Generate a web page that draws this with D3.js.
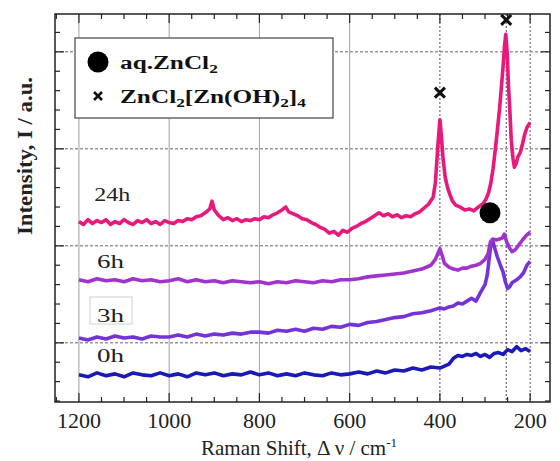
<!DOCTYPE html>
<html>
<head>
<meta charset="utf-8">
<script src="https://cdn.jsdelivr.net/npm/d3@7"></script>
<style>
  body { margin: 0; background: #fff; }
  svg { font-family: "Liberation Serif", "DejaVu Serif", serif; }
</style>
</head>
<body>
<svg id="chart" width="560" height="461"></svg>
<script>
// Raman spectra, [shift (cm-1), intensity (a.u., offset)]
var h0 = [[1200,-33],[1180,-35],[1160,-31],[1140,-34],[1120,-32],[1100,-35],[1080,-31],[1060,-33],[1040,-34],[1020,-31],
  [1000,-34],[980,-32],[960,-35],[940,-31],[920,-33],[900,-31],[880,-34],[860,-32],[840,-33],[820,-30],
  [800,-33],[780,-31],[760,-34],[740,-32],[720,-34],[700,-31],[680,-33],[660,-34],[640,-31],[620,-33],
  [600,-32],[580,-30],[560,-32],[540,-29],[520,-31],[500,-28],[480,-29],[460,-26],[440,-28],[420,-25],
  [400,-26],[390,-24],[380,-22],[370,-16],[360,-13],[350,-14],[340,-12],[330,-13],[320,-11],[310,-14],
  [300,-12],[290,-15],[280,-11],[270,-10],[260,-12],[250,-7],[240,-9],[230,-4],[220,-8],[210,-6],[200,-9]];

var h3 = [[1200,5],[1180,3],[1160,6],[1140,4],[1120,7],[1100,5],[1080,6],[1060,4],[1040,7],[1020,6],
  [1000,6],[980,8],[960,6],[940,9],[920,7],[900,9],[880,8],[860,10],[840,9],[820,11],
  [800,11],[780,10],[760,13],[740,12],[720,14],[700,12],[680,15],[660,14],[640,17],[620,16],
  [600,19],[580,18],[560,21],[540,22],[520,24],[500,26],[480,27],[460,30],[440,31],[420,33],
  [400,36],[390,35],[380,37],[370,38],[360,41],[350,40],[340,43],[330,46],[320,43],[310,52],
  [300,60],[295,70],[290,90],[286,104],[283,106],[280,100],[273,89],[266,80],[260,73],[255,63],
  [250,56],[245,58],[240,62],[230,65],[222,68],[215,72],[207,80],[200,84]];

var h6 = [[1200,65],[1180,63],[1160,66],[1140,64],[1120,65],[1100,63],[1080,66],[1060,64],[1040,65],[1020,63],
  [1000,64],[980,66],[960,63],[940,65],[920,63],[900,64],[880,62],[860,64],[840,63],[820,62],
  [800,63],[780,61],[760,63],[740,62],[720,64],[700,63],[680,62],[660,64],[640,63],[620,65],
  [600,65],[580,66],[560,68],[540,69],[520,70],[500,71],[480,72],[460,74],[440,76],[420,80],
  [410,86],[400,97],[395,90],[390,82],[380,78],[370,76],[360,75],[350,77],[340,77],[330,79],
  [320,80],[310,82],[300,86],[293,92],[288,104],[283,107],[275,106],[268,107],[262,108],[257,112],
  [252,104],[246,98],[240,94],[233,96],[225,101],[217,106],[208,111],[200,114]];

var h24 = [[1200,125],[1190,122],[1180,127],[1170,123],[1160,126],[1150,124],[1140,127],[1130,122],[1120,125],[1110,123],
  [1100,127],[1090,124],[1080,122],[1070,126],[1060,124],[1050,127],[1040,123],[1030,125],[1020,122],[1010,126],
  [1000,124],[990,123],[980,126],[970,125],[960,128],[950,127],[940,130],[930,131],[920,134],[910,138],
  [905,146],[900,137],[890,131],[880,127],[870,129],[860,126],[850,128],[840,125],[830,127],[820,126],
  [810,128],[800,127],[790,130],[780,129],[770,132],[760,134],[750,137],[742,140],[735,135],[725,133],
  [715,131],[705,128],[695,127],[685,124],[675,122],[665,119],[655,117],[645,113],[635,115],[625,111],
  [615,116],[605,114],[595,118],[585,120],[575,123],[565,125],[555,128],[545,131],[535,134],[525,131],
  [515,133],[505,130],[495,132],[485,129],[475,131],[465,130],[455,133],[445,135],[435,139],[425,143],
  [415,150],[410,165],[405,200],[400,230],[397,215],[393,190],[388,170],[383,160],[378,153],[372,146],
  [365,142],[355,140],[345,137],[335,138],[325,136],[315,140],[305,143],[298,148],[292,155],[287,165],
  [282,180],[277,200],[272,222],[268,240],[264,262],[260,285],[257,305],[254,318],[251,300],[248,265],
  [245,240],[242,210],[238,190],[235,181],[231,185],[227,192],[222,196],[217,205],[212,215],[207,222],
  [203,225],[200,227]];

var seriesNames = ["0h", "3h", "6h", "24h"];
var seriesData = [h0, h3, h6, h24];
var seriesColors = ["#1a1ab8", "#7433d6", "#a033cc", "#e8187c"];
var seriesLabelPos = [[1160, -20], [1160, 21], [1160, 77], [1166, 146]];

var xTicks = [1200, 1000, 800, 600, 400, 200];
var yGrid = [0, 100, 200, 300];
var crossMarks = [[400, 258], [253, 333]];   // ZnCl2[Zn(OH)2]4
var dotMarks = [[289, 134]];                 // aq. ZnCl2

var svg = d3.select("#chart");
var pl = 55, pr = 550, pt = 14, pb = 402;

var x = d3.scaleLinear().domain([1253, 156]).range([pl, pr]);
var y = d3.scaleLinear().domain([-61, 339]).range([pb, pt]);

var g = svg.append("g");

// grid
g.selectAll(".vgrid")
    .data(xTicks)
    .enter().append("line")
    .attr("x1", function(d) { return x(d); })
    .attr("x2", function(d) { return x(d); })
    .attr("y1", pt).attr("y2", pb)
    .attr("stroke", function(d) { return d <= 400 ? "#555" : "#a0a0a0"; })
    .attr("stroke-dasharray", function(d) { return d <= 400 ? "2,2" : null; })
    .attr("stroke-width", 1);

g.selectAll(".hgrid")
    .data(yGrid)
    .enter().append("line")
    .attr("x1", pl).attr("x2", pr)
    .attr("y1", function(d) { return y(d); })
    .attr("y2", function(d) { return y(d); })
    .attr("stroke", "#666")
    .attr("stroke-dasharray", "3,2")
    .attr("stroke-width", 1);

// guide line through the 253 peak
g.append("line")
    .attr("x1", x(253)).attr("x2", x(253))
    .attr("y1", pt).attr("y2", pb)
    .attr("stroke", "#444")
    .attr("stroke-dasharray", "2,2");

// ticks (inward) on all four sides
var xMinor = d3.range(1250, 150, -50);
var yMinor = d3.range(-60, 340, 20);
function isMajorX(d) { return xTicks.indexOf(d) >= 0; }
function isMajorY(d) { return yGrid.indexOf(d) >= 0; }

[pb, pt].forEach(function(edge) {
  var dir = edge === pb ? -1 : 1;
  g.selectAll(null).data(xMinor).enter().append("line")
      .attr("x1", function(d) { return x(d); })
      .attr("x2", function(d) { return x(d); })
      .attr("y1", edge)
      .attr("y2", function(d) { return edge + dir * (isMajorX(d) ? 9 : 5); })
      .attr("stroke", "#222").attr("stroke-width", 1.2);
});
[pl, pr].forEach(function(edge) {
  var dir = edge === pl ? 1 : -1;
  g.selectAll(null).data(yMinor).enter().append("line")
      .attr("y1", function(d) { return y(d); })
      .attr("y2", function(d) { return y(d); })
      .attr("x1", edge)
      .attr("x2", function(d) { return edge + dir * (isMajorY(d) ? 9 : 5); })
      .attr("stroke", "#222").attr("stroke-width", 1.2);
});

// spectra
var line = d3.line()
    .x(function(d) { return x(d[0]); })
    .y(function(d) { return y(d[1]); });

seriesData.forEach(function(s, i) {
  g.append("path")
      .datum(s)
      .attr("fill", "none")
      .attr("stroke", seriesColors[i])
      .attr("stroke-width", 3.6)
      .attr("stroke-linejoin", "round")
      .attr("d", line);
});

// series labels
seriesNames.forEach(function(name, i) {
  var p = seriesLabelPos[i];
  g.append("text")
      .attr("x", x(p[0])).attr("y", y(p[1]))
      .attr("font-size", "19px")
      .attr("textLength", name.length === 2 ? 27 : 36)
      .attr("lengthAdjust", "spacingAndGlyphs")
      .attr("fill", "#222")
      .text(name);
});
// faint box round the 3h label
g.append("rect")
    .attr("x", 90).attr("y", 297).attr("width", 42).attr("height", 27)
    .attr("fill", "none").attr("stroke", "#d0d0d0").attr("stroke-width", 1);

// peak markers
crossMarks.forEach(function(m) {
  var cx = x(m[0]), cy = y(m[1]);
  g.append("path")
      .attr("d", "M" + (cx - 5) + "," + (cy - 5) + "L" + (cx + 5) + "," + (cy + 5) +
                 "M" + (cx - 5) + "," + (cy + 5) + "L" + (cx + 5) + "," + (cy - 5))
      .attr("stroke", "#111").attr("stroke-width", 3);
});
dotMarks.forEach(function(m) {
  g.append("circle")
      .attr("cx", x(m[0])).attr("cy", y(m[1])).attr("r", 10.5)
      .attr("fill", "#000");
});

// legend
var lg = g.append("g");
lg.append("rect")
    .attr("x", 75).attr("y", 38).attr("width", 258).attr("height", 80)
    .attr("fill", "#fff").attr("stroke", "#444").attr("stroke-width", 1.2);
lg.append("circle").attr("cx", 98).attr("cy", 62).attr("r", 10.5).attr("fill", "#000");
lg.append("path")
    .attr("d", "M94,92L102,100M94,100L102,92")
    .attr("stroke", "#111").attr("stroke-width", 2.5);

var t1 = lg.append("text")
    .attr("transform", "translate(120,69) scale(1.33,1)")
    .attr("font-size", "19px").attr("font-weight", "bold").attr("fill", "#111");
t1.append("tspan").text("aq.ZnCl");
t1.append("tspan").attr("font-size", "13px").attr("dy", 4).text("2");

var t2 = lg.append("text")
    .attr("transform", "translate(120,103) scale(1.33,1)")
    .attr("font-size", "19px").attr("font-weight", "bold").attr("fill", "#111");
t2.append("tspan").text("ZnCl");
t2.append("tspan").attr("font-size", "13px").attr("dy", 4).text("2");
t2.append("tspan").attr("dy", -4).text("[Zn(OH)");
t2.append("tspan").attr("font-size", "13px").attr("dy", 4).text("2");
t2.append("tspan").attr("dy", -4).text("]");
t2.append("tspan").attr("font-size", "13px").attr("dy", 4).text("4");

// frame
g.append("rect")
    .attr("x", pl).attr("y", pt)
    .attr("width", pr - pl).attr("height", pb - pt)
    .attr("fill", "none").attr("stroke", "#222").attr("stroke-width", 1.5);

// x tick labels
g.selectAll(".xlab")
    .data(xTicks)
    .enter().append("text")
    .attr("x", function(d) { return x(d); })
    .attr("y", 428)
    .attr("text-anchor", "middle")
    .attr("font-size", "22px")
    .attr("fill", "#222")
    .text(function(d) { return d; });

// axis titles
var xt = g.append("text")
    .attr("x", 299).attr("y", 455)
    .attr("text-anchor", "middle")
    .attr("font-size", "21px")
    .attr("fill", "#222");
xt.append("tspan").text("Raman Shift, \u0394 \u03bd / cm");
xt.append("tspan").attr("font-size", "13px").attr("dy", -8).text("-1");

g.append("text")
    .attr("transform", "translate(32,156) rotate(-90)")
    .attr("text-anchor", "middle")
    .attr("font-size", "20px")
    .attr("font-weight", "bold")
    .attr("textLength", 158)
    .attr("lengthAdjust", "spacingAndGlyphs")
    .attr("fill", "#222")
    .text("Intensity, I / a.u.");
</script>
</body>
</html>
